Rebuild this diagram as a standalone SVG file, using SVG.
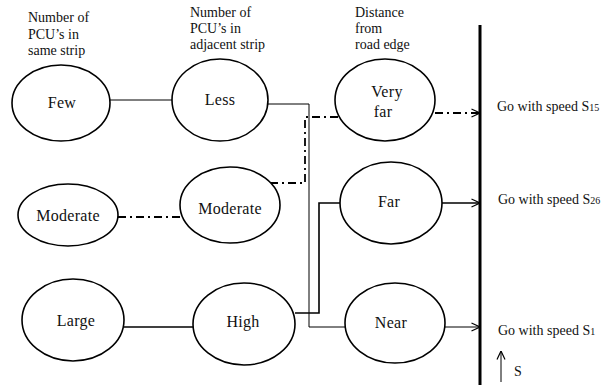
<svg xmlns="http://www.w3.org/2000/svg" width="606" height="385" viewBox="0 0 606 385">
<defs>
<style>
.node{fill:#fff;stroke:#000;stroke-width:1.6}
text{font-family:'Liberation Serif','Times New Roman','DejaVu Serif',serif;fill:#111}
.lbl{font-size:16px;text-anchor:middle;letter-spacing:0.3px}
.hdr{font-size:14px}
.out{font-size:14px}
.sub{font-size:10px}
.thin{fill:none;stroke:#000;stroke-width:1}
.solid{fill:none;stroke:#000;stroke-width:1.6}
.dd{fill:none;stroke:#000;stroke-width:1.8;stroke-dasharray:8 4 2 4}
</style>
<marker id="arr" viewBox="0 0 10 10" refX="9.5" refY="5" markerWidth="10" markerHeight="10" markerUnits="userSpaceOnUse" orient="auto">
<path d="M1,1 L9.5,5 L1,9" fill="none" stroke="#000" stroke-width="1.2"/>
</marker>
</defs>

<g id="headers">
<text class="hdr" x="28" y="22">Number of</text>
<text class="hdr" x="28" y="39">PCU’s in</text>
<text class="hdr" x="28" y="55">same strip</text>
<text class="hdr" x="190" y="17">Number of</text>
<text class="hdr" x="190" y="33">PCU’s in</text>
<text class="hdr" x="190" y="49">adjacent strip</text>
<text class="hdr" x="355" y="17">Distance</text>
<text class="hdr" x="355" y="33">from</text>
<text class="hdr" x="355" y="49">road edge</text>
</g>

<g id="connectors">
<line class="thin" x1="110" y1="100" x2="172" y2="100"/>
<polyline class="thin" points="268,104 309,104 309,327 345,327"/>
<line class="thin" x1="445" y1="327" x2="480" y2="327" marker-end="url(#arr)"/>
<line class="dd" x1="118" y1="217" x2="180" y2="217"/>
<polyline class="dd" points="270,183 305,183 305,117 338,117"/>
<line class="dd" x1="435" y1="113" x2="480" y2="113" marker-end="url(#arr)"/>
<line class="solid" x1="124" y1="327" x2="193" y2="327"/>
<polyline class="solid" points="295,313 319,313 319,203 341,203"/>
<line class="solid" x1="442" y1="203" x2="480" y2="203" marker-end="url(#arr)"/>
<line x1="480" y1="25" x2="480" y2="385" stroke="#000" stroke-width="3"/>
<line class="thin" x1="501" y1="382" x2="501" y2="351" marker-end="url(#arr)"/>
</g>

<g id="n-few"><ellipse class="node" cx="61" cy="103" rx="49" ry="38"/><text class="lbl" x="62" y="108">Few</text></g>
<g id="n-less"><ellipse class="node" cx="220" cy="100" rx="48" ry="41"/><text class="lbl" x="220" y="105">Less</text></g>
<g id="n-veryfar"><ellipse class="node" cx="385" cy="100" rx="50" ry="41"/><text class="lbl" x="387" y="97">Very</text><text class="lbl" x="383" y="117">far</text></g>
<g id="n-moderate1"><ellipse class="node" cx="68" cy="215" rx="50" ry="31"/><text class="lbl" x="68" y="221">Moderate</text></g>
<g id="n-moderate2"><ellipse class="node" cx="230" cy="205" rx="50" ry="38"/><text class="lbl" x="230" y="214">Moderate</text></g>
<g id="n-far"><ellipse class="node" cx="391" cy="203" rx="51" ry="41"/><text class="lbl" x="389" y="207">Far</text></g>
<g id="n-large"><ellipse class="node" cx="73" cy="320" rx="51" ry="41"/><text class="lbl" x="76" y="326">Large</text></g>
<g id="n-high"><ellipse class="node" cx="244" cy="324" rx="51" ry="41"/><text class="lbl" x="243" y="327">High</text></g>
<g id="n-near"><ellipse class="node" cx="395" cy="323" rx="50" ry="40"/><text class="lbl" x="391" y="328">Near</text></g>

<g id="outputs">
<text class="out" x="497" y="111">Go with speed S<tspan class="sub">15</tspan></text>
<text class="out" x="498" y="204">Go with speed S<tspan class="sub">26</tspan></text>
<text class="out" x="498" y="335">Go with speed S<tspan class="sub">1</tspan></text>
<text class="out" x="514" y="376">S</text>
</g>
</svg>
